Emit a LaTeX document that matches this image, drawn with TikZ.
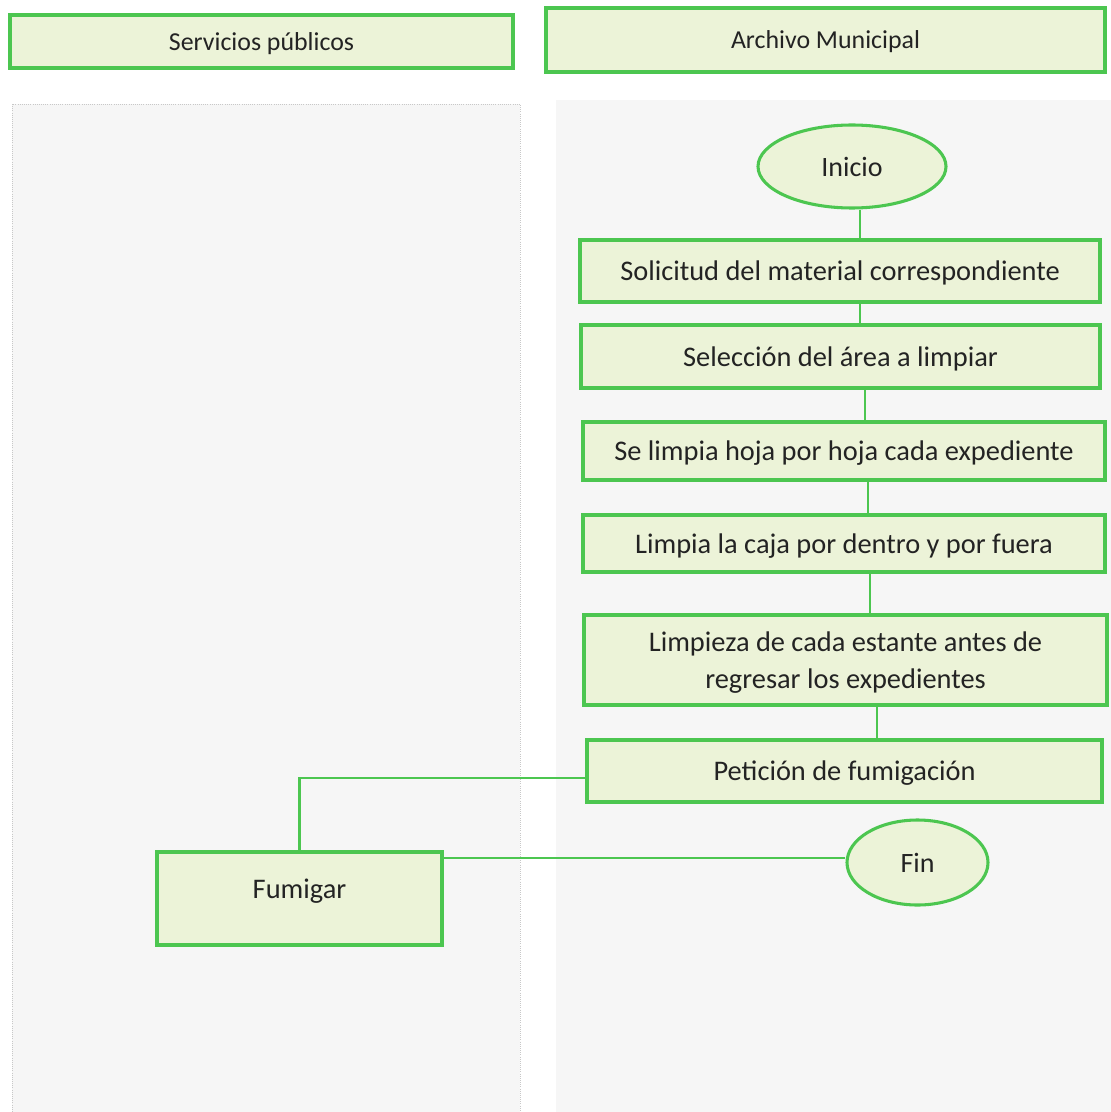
\documentclass[tikz,border=0pt]{standalone}
\usepackage{fontspec}
\setmainfont{Carlito}
\usetikzlibrary{shapes.geometric}
\definecolor{gborder}{RGB}{76,198,80}
\definecolor{gfill}{RGB}{236,243,216}
\definecolor{lanefill}{RGB}{246,246,246}
\definecolor{laneline}{RGB}{200,200,200}
\definecolor{txt}{RGB}{35,35,35}
\begin{document}
\begin{tikzpicture}[x=0.75pt,y=-0.75pt,
  hdr/.style={draw=gborder,fill=gfill,line width=2.4pt,text=txt,inner sep=0pt,text depth=0pt,
    font=\fontsize{19.4}{23}\selectfont},
  proc/.style={draw=gborder,fill=gfill,line width=2.3pt,text=txt,inner sep=0pt,align=center,text depth=0pt,
    font=\fontsize{21.3}{27.8}\selectfont},
  term/.style={ellipse,draw=gborder,fill=gfill,line width=2.3pt,text=txt,inner sep=0pt,
    font=\fontsize{21}{25}\selectfont},
  conn/.style={draw=gborder,line width=1.6pt}]
\useasboundingbox (0,0) rectangle (1110,1112);
\fill[white] (0,0) rectangle (1110,1112);
% lanes
\path[fill=lanefill,draw=laneline,densely dotted,line width=0.6pt] (12,1116) -- (12,104) -- (520,104) -- (520,1116);
\fill[lanefill] (556,100) rectangle (1112,1114);
% headers
\node[hdr,minimum width={503*0.75pt},minimum height={53*0.75pt}] (hl) at (261.5,41.5) {Servicios públicos};
\node[hdr,minimum width={559*0.75pt},minimum height={64*0.75pt}] (hr) at (825.5,40) {Archivo Municipal};
% flow nodes
\node[term,minimum width={188*0.75pt},minimum height={83*0.75pt}] (ini) at (852,166.5) {Inicio};
\node[proc,minimum width={520*0.75pt},minimum height={62*0.75pt}] (b1) at (840,271) {Solicitud del material correspondiente};
\node[proc,minimum width={519*0.75pt},minimum height={63*0.75pt}] (b2) at (840.5,356.5) {Selección del área a limpiar};
\node[proc,minimum width={522*0.75pt},minimum height={58*0.75pt}] (b3) at (844,451) {Se limpia hoja por hoja cada expediente};
\node[proc,minimum width={522*0.75pt},minimum height={57*0.75pt}] (b4) at (844,543.5) {Limpia la caja por dentro y por fuera};
\node[proc,minimum width={523*0.75pt},minimum height={90*0.75pt}] (b5) at (845.5,660) {Limpieza de cada estante antes de\\regresar los expedientes};
\node[proc,minimum width={515*0.75pt},minimum height={62*0.75pt}] (b6) at (844.5,771) {Petición de fumigación};
\node[term,minimum width={141*0.75pt},minimum height={85*0.75pt}] (fin) at (917.5,862.5) {Fin};
\node[proc,minimum width={285*0.75pt},minimum height={93*0.75pt},text depth=14pt] (fum) at (299.5,898.5) {Fumigar};
% connector x positions
\coordinate (x1) at (860,0);
\coordinate (x2) at (860,0);
\coordinate (x3) at (865,0);
\coordinate (x4) at (868,0);
\coordinate (x5) at (870,0);
\coordinate (x6) at (877,0);
\draw[conn] (x1 |- ini.south) -- (x1 |- b1.north);
\draw[conn] (x2 |- b1.south) -- (x2 |- b2.north);
\draw[conn] (x3 |- b2.south) -- (x3 |- b3.north);
\draw[conn] (x4 |- b3.south) -- (x4 |- b4.north);
\draw[conn] (x5 |- b4.south) -- (x5 |- b5.north);
\draw[conn] (x6 |- b5.south) -- (x6 |- b6.north);
\coordinate (ly) at (0,778);
\draw[conn] (b6.west |- ly) -- (fum.north |- ly) -- (fum.north);
\coordinate (fy) at (0,858);
\draw[conn] (fin.west |- fy) -- (fum.east |- fy);
\end{tikzpicture}
\end{document}
